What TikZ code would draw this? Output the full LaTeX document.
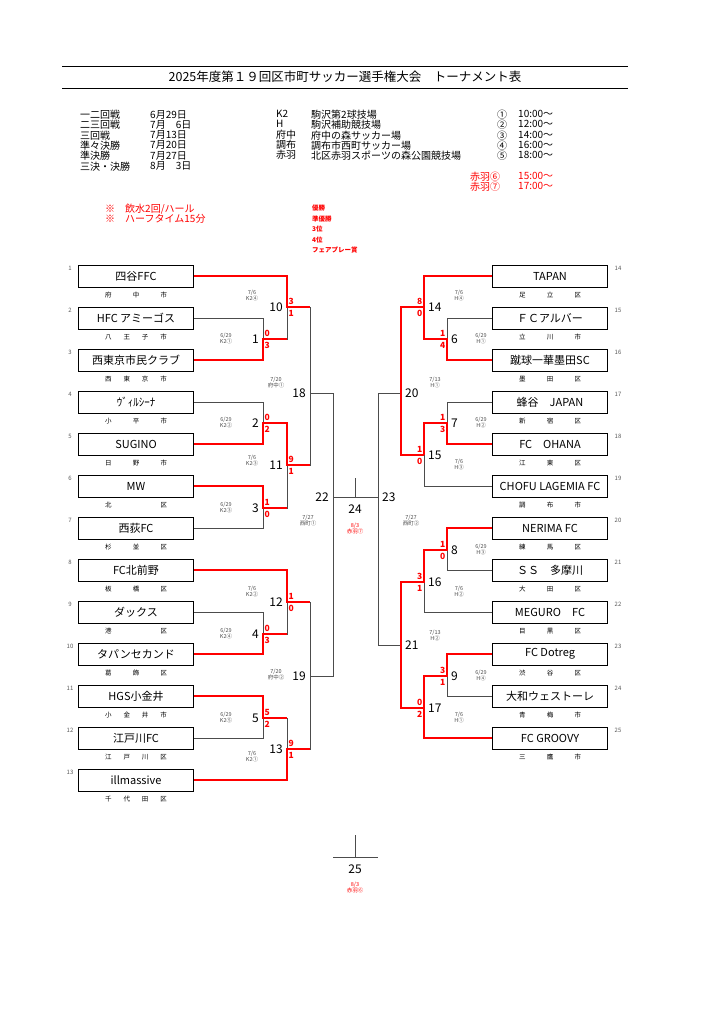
\documentclass[tikz,border=0pt]{standalone}
\usepackage{fontspec}
\setmainfont{Noto Sans CJK JP}
\usetikzlibrary{calc}

\tikzset{
  team/.style={draw, line width=0.6pt, minimum width=115pt, minimum height=22pt,
    inner sep=0pt, font=\fontsize{11}{11}\selectfont},
  city/.style={text width=62pt, font=\fontsize{6.5}{7}\selectfont, inner sep=0pt},
  tno/.style={font=\fontsize{6}{6}\selectfont\itshape, text=gray!70!black},
  line/.style={gray!60!black, line width=0.9pt},
  win/.style={red, line width=2.2pt},
  mno/.style={font=\fontsize{12}{12}\selectfont, inner sep=1pt},
  when/.style={font=\fontsize{5.5}{6}\selectfont, text=gray!60!black, align=center},
  score/.style={font=\fontsize{8.5}{8.5}\selectfont\bfseries, text=red, inner sep=0.5pt},
  hdr/.style={font=\fontsize{10}{10.3}\selectfont, align=left, anchor=north west, inner sep=0pt},
}

\begin{document}
\begin{tikzpicture}[x=1pt, y=-1pt]
  \useasboundingbox (0,0) rectangle (723,1024);

  %% title
  \draw[line width=0.6pt] (62,66) -- (628,66);
  \draw[line width=0.6pt] (62,88) -- (628,88);
  \node[font=\fontsize{12.5}{13}\selectfont] (title) at (345,77)
    {2025年度第１９回区市町サッカー選手権大会　トーナメント表};

  %% schedule
  \node[hdr] (rounds) at (80,110) {一二回戦\\二三回戦\\三回戦\\準々決勝\\準決勝\\三決・決勝};
  \node[hdr] (dates) at (150,110) {6月29日\\7月　6日\\7月13日\\7月20日\\7月27日\\8月　3日};
  \node[hdr] (codes) at (276,110) {K2\\H\\府中\\調布\\赤羽};
  \node[hdr] (venues) at (311,110) {駒沢第2球技場\\駒沢補助競技場\\府中の森サッカー場\\調布市西町サッカー場\\北区赤羽スポーツの森公園競技場};
  \node[hdr] (slots) at (497,110) {①\\②\\③\\④\\⑤};
  \node[hdr] (times) at (518,110) {10:00～\\12:00～\\14:00～\\16:00～\\18:00～};
  \node[hdr, text=red] (rslots) at (470,172) {赤羽⑥\\赤羽⑦};
  \node[hdr, text=red] (rtimes) at (518,172) {15:00～\\17:00～};
  \node[hdr, text=red] (notes) at (105,204) {※　飲水2回/ハール\\※　ハーフタイム15分};
  \node[hdr, text=red, font=\fontsize{6.5}{10.5}\selectfont\bfseries] (prizes) at (312,205)
    {優勝\\準優勝\\3位\\4位\\フェアプレー賞};

  %% teams
  \foreach \i/\name/\city [count=\k from 0] in {
    1/四谷FFC/府\hfill 中\hfill 市,
    2/HFC アミーゴス/八\hfill 王\hfill 子\hfill 市,
    3/西東京市民クラブ/西\hfill 東\hfill 京\hfill 市,
    4/ｳﾞｨﾙｼｰﾅ/小\hfill 平\hfill 市,
    5/SUGINO/日\hfill 野\hfill 市,
    6/MW/北\hfill 区,
    7/西荻FC/杉\hfill 並\hfill 区,
    8/FC北前野/板\hfill 橋\hfill 区,
    9/ダックス/港\hfill 区,
    10/タパンセカンド/葛\hfill 飾\hfill 区,
    11/HGS小金井/小\hfill 金\hfill 井\hfill 市,
    12/江戸川FC/江\hfill 戸\hfill 川\hfill 区,
    13/illmassive/千\hfill 代\hfill 田\hfill 区} {
    \node[team] (t\i) at (136,276+42*\k) {\name};
    \node[city] (c\i) at (136,295+42*\k) {\city};
    \node[tno] (n\i) at (70,268+42*\k) {\i};
  }
  \foreach \i/\name/\city [count=\k from 0] in {
    14/TAPAN/足\hfill 立\hfill 区,
    15/ＦＣアルバー/立\hfill 川\hfill 市,
    16/蹴球一華墨田SC/墨\hfill 田\hfill 区,
    17/蜂谷　JAPAN/新\hfill 宿\hfill 区,
    18/FC　OHANA/江\hfill 東\hfill 区,
    19/CHOFU LAGEMIA FC/調\hfill 布\hfill 市,
    20/NERIMA FC/練\hfill 馬\hfill 区,
    21/ＳＳ　多摩川/大\hfill 田\hfill 区,
    22/MEGURO　FC/目\hfill 黒\hfill 区,
    23/FC Dotreg/渋\hfill 谷\hfill 区,
    24/大和ウェストーレ/青\hfill 梅\hfill 市,
    25/FC GROOVY/三\hfill 鷹\hfill 市} {
    \node[team] (t\i) at (550,276+42*\k) {\name};
    \node[city] (c\i) at (550,295+42*\k) {\city};
    \node[tno] (n\i) at (618,268+42*\k) {\i};
  }

  %% match points
  \coordinate (m1) at (263,339);  \coordinate (m2) at (263,423);
  \coordinate (m3) at (263,508);  \coordinate (m4) at (263,634);
  \coordinate (m5) at (263,718);
  \coordinate (m10) at (287,307); \coordinate (m11) at (287,465);
  \coordinate (m12) at (287,602); \coordinate (m13) at (287,749);
  \coordinate (m18) at (310,393); \coordinate (m19) at (310,676);
  \coordinate (m22) at (333,497); \coordinate (m24) at (355,497);
  \coordinate (m23) at (378,497);
  \coordinate (m20) at (401,393); \coordinate (m21) at (401,645);
  \coordinate (m14) at (424,307); \coordinate (m15) at (424,455);
  \coordinate (m16) at (424,582); \coordinate (m17) at (424,708);
  \coordinate (m6) at (447,339);  \coordinate (m7) at (447,423);
  \coordinate (m8) at (447,550);  \coordinate (m9) at (447,676);
  \coordinate (m25) at (355,857);

  %% bracket lines
  \foreach \a/\b/\m in {t2/t3/m1, t4/t5/m2, t6/t7/m3, t9/t10/m4, t11/t12/m5} {
    \draw[line] (\a.east) -| (\m);
    \draw[line] (\b.east) -| (\m);
  }
  \foreach \a/\b/\m in {t15/t16/m6, t17/t18/m7, t20/t21/m8, t23/t24/m9} {
    \draw[line] (\a.west) -| (\m);
    \draw[line] (\b.west) -| (\m);
  }
  \foreach \a/\m in {t1/m10, t8/m12, t13/m13}
    \draw[line] (\a.east) -| (\m);
  \foreach \a/\m in {t14/m14, t19/m15, t22/m16, t25/m17}
    \draw[line] (\a.west) -| (\m);
  \foreach \a/\m in {m1/m10, m2/m11, m3/m11, m4/m12, m5/m13,
                     m10/m18, m11/m18, m12/m19, m13/m19, m18/m22, m19/m22,
                     m6/m14, m7/m15, m8/m16, m9/m17,
                     m14/m20, m15/m20, m16/m21, m17/m21, m20/m23, m21/m23}
    \draw[line] (\a) -| (\m);
  \draw[line] (m22) -- (m23);
  \draw[line] (m24) -- ++(0,-19);
  \draw[line] ($(m25)+(-22,0)$) -- ($(m25)+(23,0)$);
  \draw[line] (m25) -- ++(0,-22);

  %% winners
  \draw[win] (t1.east) -| (m10) -- (m10 -| m18);
  \draw[win] (t3.east) -| (m1) -- (m1 -| m10);
  \draw[win] (t5.east) -| (m2) -| (m11) -- (m11 -| m18);
  \draw[win] (t6.east) -| (m3) -- (m3 -| m11);
  \draw[win] (t8.east) -| (m12) -- (m12 -| m19);
  \draw[win] (t10.east) -| (m4) -- (m4 -| m12);
  \draw[win] (t11.east) -| (m5) -- (m5 -| m13);
  \draw[win] (t13.east) -| (m13) -- (m13 -| m19);
  \draw[win] (t14.west) -| (m14) -- (m14 -| m20) -- (m15 -| m20) -- (m15);
  \draw[win] (t16.west) -| (m6) -| (m14);
  \draw[win] (t18.west) -| (m7) -| (m15);
  \draw[win] (t20.west) -| (m8) -| (m16) -- (m16 -| m21) -- (m17 -| m21) -- (m17);
  \draw[win] (t23.west) -| (m9) -| (m17);
  \draw[win] (t25.west) -| (m17);

  %% match numbers
  \foreach \m/\t in {m1/1, m2/2, m3/3, m4/4, m5/5, m10/10, m11/11, m12/12, m13/13,
                     m18/18, m19/19, m22/22}
    \node[mno, anchor=east] (l\m) at ($(\m)+(-3,0)$) {\t};
  \foreach \m/\t in {m6/6, m7/7, m8/8, m9/9, m14/14, m15/15, m16/16, m17/17,
                     m20/20, m21/21, m23/23}
    \node[mno, anchor=west] (l\m) at ($(\m)+(3,0)$) {\t};
  \node[mno] (lm24) at ($(m24)+(0,12)$) {24};
  \node[mno] (lm25) at ($(m25)+(0,12)$) {25};

  %% scores
  \foreach \m/\u/\d in {m1/0/3, m2/0/2, m3/1/0, m4/0/3, m5/5/2,
                        m10/3/1, m11/9/1, m12/1/0, m13/9/1} {
    \node[score, anchor=west] at ($(\m)+(1,-6)$) {\u};
    \node[score, anchor=west] at ($(\m)+(1,6)$) {\d};
  }
  \foreach \m/\u/\d in {m6/1/4, m7/1/3, m8/1/0, m9/3/1,
                        m14/8/0, m15/1/0, m16/3/1, m17/0/2} {
    \node[score, anchor=east] at ($(\m)+(-1,-6)$) {\u};
    \node[score, anchor=east] at ($(\m)+(-1,6)$) {\d};
  }

  %% dates and venues
  \foreach \x/\y/\t in {226/339/{6/29\\K2①}, 252/296/{7/6\\K2④}, 276/383/{7/20\\府中①},
      226/423/{6/29\\K2②}, 252/461/{7/6\\K2③}, 226/508/{6/29\\K2③}, 308/521/{7/27\\西町①},
      252/592/{7/6\\K2②}, 226/634/{6/29\\K2④}, 276/675/{7/20\\府中②},
      226/718/{6/29\\K2⑤}, 252/757/{7/6\\K2①},
      459/296/{7/6\\H④}, 481/339/{6/29\\H①}, 435/383/{7/13\\H①}, 481/423/{6/29\\H②},
      459/465/{7/6\\H③}, 411/521/{7/27\\西町②}, 481/550/{6/29\\H③}, 459/592/{7/6\\H②},
      435/636/{7/13\\H②}, 481/676/{6/29\\H④}, 459/718/{7/6\\H①}}
    \node[when] at (\x,\y) {\t};
  \node[when, text=red] (d24) at (355,529) {8/3\\赤羽⑦};
  \node[when, text=red] (d25) at (355,888) {8/3\\赤羽⑥};

\end{tikzpicture}
\end{document}
